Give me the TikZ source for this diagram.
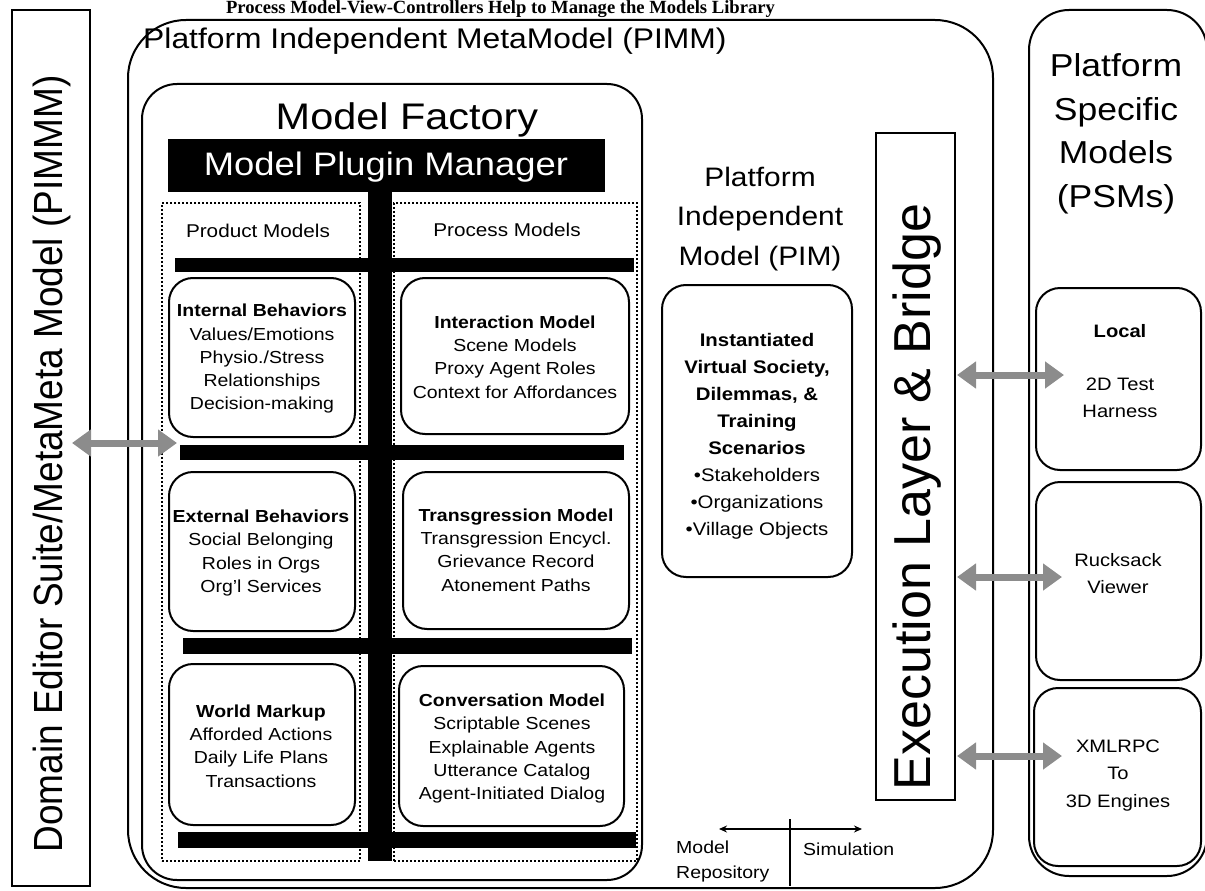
\documentclass[tikz,border=0pt]{standalone}
\usepackage{fontspec}
\setmainfont{Liberation Sans}
\newfontfamily\titleserif{Liberation Serif}
\usetikzlibrary{arrows.meta}
\begin{document}
\begin{tikzpicture}[x=1pt,y=-1pt,
  frame/.style={draw, line width=2pt, inner sep=0pt},
  rbox/.style={draw, line width=2pt, rounded corners=24pt, inner sep=0pt},
  dotbox/.style={draw, line width=1.8pt, dash pattern=on 1.8pt off 2.2pt, inner sep=0pt},
  btxt/.style={align=center, inner sep=0pt, xscale=1.12, font=\fontsize{17.4}{23.2}\selectfont},
  ptxt/.style={align=center, inner sep=0pt, xscale=1.12, font=\fontsize{18.2}{27}\selectfont},
  bigtxt/.style={inner sep=0pt, xscale=1.12},
  bar/.style={fill=black},
  garrow/.style={line width=7pt, draw=black!45, {Triangle[width=26pt,length=19pt]}-{Triangle[width=26pt,length=19pt]}},
  legarrow/.style={line width=1.6pt, {Stealth[length=8pt,width=7pt]}-{Stealth[length=8pt,width=7pt]}}
]
\useasboundingbox (0,0) rectangle (1205,891);

% title
\node[anchor=base, inner sep=0pt, font=\titleserif\bfseries\fontsize{18.6}{22}\selectfont] (title) at (500.5,13.6) {Process Model-View-Controllers Help to Manage the Models Library};

% Domain editor box
\node[frame, minimum width=78pt, minimum height=876pt] (dom) at (51,448) {};
\node[inner sep=0pt, rotate=90, yscale=1.1, font=\fontsize{37}{40}\selectfont] (domtxt) at (52,464) {Domain Editor Suite/MetaMeta Model (PIMMM)};

% PIMM
\node[draw, line width=2pt, rounded corners=58pt, inner sep=0pt, minimum width=865pt, minimum height=868pt] (pimm) at (560.5,454) {};
\node[bigtxt, anchor=base west, font=\fontsize{28.4}{34}\selectfont] (pimmtxt) at (143,49) {Platform Independent MetaModel (PIMM)};

% Model factory
\node[draw, line width=2pt, rounded corners=35pt, inner sep=0pt, minimum width=500pt, minimum height=796pt] (mf) at (392,482) {};
\node[bigtxt, anchor=base, font=\fontsize{37}{42}\selectfont] (mftxt) at (407,129) {Model Factory};

% dotted columns
\node[dotbox, minimum width=198pt, minimum height=658pt] (prodcol) at (261,532) {};
\node[dotbox, minimum width=243pt, minimum height=658pt] (proccol) at (515.5,532) {};

% plugin manager + bars
\node[fill=black, inner sep=0pt, minimum width=437pt, minimum height=53pt] (mpm) at (386.5,165.5) {};
\node[bigtxt, text=white, font=\fontsize{32.5}{36}\selectfont] (mpmtxt) at (386,167) {Model Plugin Manager};
\fill[bar] (368,190) rectangle (392,861);
\fill[bar] (175,258) rectangle (634,272);
\fill[bar] (180,445) rectangle (624,460);
\fill[bar] (183,638) rectangle (632,654);
\fill[bar] (178,832) rectangle (636,848);

\node[bigtxt, font=\fontsize{18.5}{22}\selectfont] (prodtxt) at (258,231) {Product Models};
\node[bigtxt, font=\fontsize{18.5}{22}\selectfont] (proctxt) at (507,230) {Process Models};

% model boxes
\node[rbox, minimum width=186pt, minimum height=159pt] (ib) at (262,357.5) {};
\node[btxt] (ibtxt) at (262,358.8) {\textbf{Internal Behaviors}\\Values/Emotions\\Physio./Stress\\Relationships\\Decision-making};
\node[rbox, minimum width=228pt, minimum height=156pt] (im) at (515,356) {};
\node[btxt] (imtxt) at (515,357) {\textbf{Interaction Model}\\Scene Models\\Proxy Agent Roles\\Context for Affordances};
\node[rbox, minimum width=186pt, minimum height=159pt] (eb) at (262,551.5) {};
\node[btxt] (ebtxt) at (261,553) {\textbf{External Behaviors}\\Social Belonging\\Roles in Orgs\\Org'l Services};
\node[rbox, minimum width=226pt, minimum height=157pt] (tm) at (516,550.5) {};
\node[btxt] (tmtxt) at (516,550) {\textbf{Transgression Model}\\Transgression Encycl.\\Grievance Record\\Atonement Paths};
\node[rbox, minimum width=186pt, minimum height=161pt] (wm) at (262,744.5) {};
\node[btxt] (wmtxt) at (261,746) {\textbf{World Markup}\\Afforded Actions\\Daily Life Plans\\Transactions};
\node[rbox, minimum width=225pt, minimum height=160pt] (cm) at (511.5,746) {};
\node[btxt] (cmtxt) at (512,748.6) {\textbf{Conversation Model}\\Scriptable Scenes\\Explainable Agents\\Utterance Catalog\\Agent-Initiated Dialog};

% PIM
\node[bigtxt, align=center, font=\fontsize{26.7}{39.5}\selectfont] (pimtitle) at (760,219) {Platform\\Independent\\Model (PIM)};
\node[rbox, minimum width=190pt, minimum height=292pt] (pim) at (757,431) {};
\node[ptxt] (pimtxt) at (757,436.5) {\textbf{Instantiated}\\\textbf{Virtual Society,}\\\textbf{Dilemmas, \&}\\\textbf{Training}\\\textbf{Scenarios}\\\textbullet Stakeholders\\\textbullet Organizations\\\textbullet Village Objects};

% Execution layer
\node[frame, minimum width=79pt, minimum height=667pt] (exe) at (915.5,466.5) {};
\node[inner sep=0pt, rotate=90, font=\fontsize{52}{56}\selectfont] (exetxt) at (917,497) {Execution Layer \& Bridge};

% PSM
\node[draw, line width=2pt, rounded corners=40pt, inner sep=0pt, minimum width=178pt, minimum height=866pt] (psm) at (1118,443) {};
\node[bigtxt, align=center, font=\fontsize{31.7}{43.5}\selectfont] (psmtxt) at (1116,134) {Platform\\Specific\\Models\\(PSMs)};
\node[rbox, minimum width=165pt, minimum height=182pt] (loc) at (1118.5,379) {};
\node[ptxt, font=\fontsize{18}{26.5}\selectfont] (loctxt) at (1120,371) {\textbf{Local}\\[26.5pt]2D Test\\Harness};
\node[rbox, minimum width=165pt, minimum height=198pt] (ruck) at (1118.5,581) {};
\node[ptxt, font=\fontsize{18}{27}\selectfont] (rucktxt) at (1118,573.5) {Rucksack\\Viewer};
\node[rbox, minimum width=167pt, minimum height=178pt] (xml) at (1117.5,777) {};
\node[ptxt, font=\fontsize{18}{27.5}\selectfont] (xmltxt) at (1118,775.5) {XMLRPC\\To\\3D Engines};

% gray arrows
\coordinate (a1l) at (72,443); \coordinate (a1r) at (177,443);
\draw[garrow] (a1l) -- (a1r);
\coordinate (a2l) at (957,375); \coordinate (a2r) at (1064,375);
\draw[garrow] (a2l) -- (a2r);
\coordinate (a3l) at (957,577); \coordinate (a3r) at (1062,577);
\draw[garrow] (a3l) -- (a3r);
\coordinate (a4l) at (957,756); \coordinate (a4r) at (1062,756);
\draw[garrow] (a4l) -- (a4r);

% legend
\coordinate (lgl) at (719,829); \coordinate (lgr) at (862,829);
\draw[legarrow] (lgl) -- (lgr);
\coordinate (lgt) at (790,819); \coordinate (lgb) at (790,886);
\draw[line width=1.8pt] (lgt) -- (lgb);
\node[bigtxt, anchor=west, align=left, font=\fontsize{17.4}{25}\selectfont] (legrepo) at (676,861.5) {Model\\Repository};
\node[bigtxt, anchor=west, font=\fontsize{17.4}{25}\selectfont] (legsim) at (803,849) {Simulation};
\end{tikzpicture}
\end{document}
